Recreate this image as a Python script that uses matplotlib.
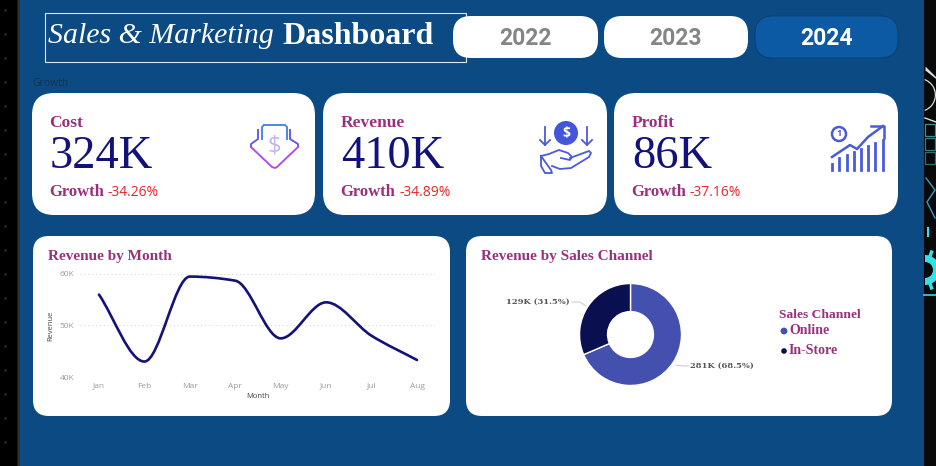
#!/usr/bin/env python3
"""Sales & Marketing dashboard, 2024 view."""
import numpy as np
import matplotlib
matplotlib.use("Agg")
import matplotlib.pyplot as plt
from matplotlib.patches import FancyBboxPatch, Rectangle, Circle, Wedge, PathPatch
from matplotlib.path import Path

W, H = 936, 466
BLUE = "#0B4A82"
NAVY = "#12127A"
PURPLE = "#9C2F7C"
RED = "#E8262A"
ICON = "#4A5BD8"
SERIF = "Liberation Serif"
SANS = "Open Sans"

years = ["2022", "2023", "2024"]
kpi_names = ["Cost", "Revenue", "Profit"]
kpi_values = ["324K", "410K", "86K"]
kpi_growth = ["-34.26%", "-34.89%", "-37.16%"]

months = ["Jan", "Feb", "Mar", "Apr", "May", "Jun", "Jul", "Aug"]
revenue = [56.0, 43.0, 59.5, 58.7, 47.5, 54.5, 48.0, 43.3]

channels = ["Online", "In-Store"]
channel_rev = [281, 129]
channel_labels = ["281K (68.5%)", "129K (31.5%)"]
channel_colors = ["#4350AE", "#0A0F50"]


def card(ax, x0, y0, x1, y1, r=20, fc="white", ec="none", lw=0):
    ax.add_patch(FancyBboxPatch((x0 + r, y0 + r), x1 - x0 - 2 * r, y1 - y0 - 2 * r,
                                boxstyle=f"round,pad={r},rounding_size={r}",
                                fc=fc, ec=ec, lw=lw))


def px_axes(fig, x0, y0, x1, y1):
    return fig.add_axes([x0 / W, 1 - y1 / H, (x1 - x0) / W, (y1 - y0) / H])


def smooth_path(xs, ys):
    # bezier handles with monotone tangents, the curve goes through the values
    xs, ys = np.array(xs, float), np.array(ys, float)
    d = np.diff(ys)
    m = np.zeros(len(ys))
    m[0], m[-1] = d[0], d[-1]
    for i in range(1, len(ys) - 1):
        if d[i - 1] * d[i] > 0:
            m[i] = 2 * d[i - 1] * d[i] / (d[i - 1] + d[i])
    verts = [(xs[0], ys[0])]
    codes = [Path.MOVETO]
    for i in range(len(ys) - 1):
        verts += [(xs[i] + 1 / 3, ys[i] + m[i] / 3),
                  (xs[i + 1] - 1 / 3, ys[i + 1] - m[i + 1] / 3),
                  (xs[i + 1], ys[i + 1])]
        codes += [Path.CURVE4] * 3
    return Path(verts, codes)


def cost_icon(ax):
    top, mid, low = "#4A86F0", "#6A5AE8", "#B24FE0"
    ax.plot([262, 262, 264], [139, 127, 125], color=top, lw=1.4)
    ax.plot([264, 285, 287, 287], [125, 125, 127, 139], color=top, lw=1.4)
    ax.plot([258, 258, 251, 251], [130, 139, 144, 147], color=mid, lw=1.4)
    ax.plot([290, 290, 298, 298], [130, 139, 144, 147], color=mid, lw=1.4)
    ax.plot([251, 272, 275, 277, 298], [147, 167, 168, 167, 147], color=low, lw=1.4)
    ax.text(274.5, 146, "$", color="#C6B2F2", fontsize=17, family=SANS,
            ha="center", va="center")


def revenue_icon(ax):
    ax.add_patch(Circle((566, 133), 12, fc="#4355D8", ec="none"))
    ax.text(566, 133, "$", color="white", fontsize=10, weight="bold", family=SANS,
            ha="center", va="center")
    for x in (545, 587):
        ax.plot([x, x], [127, 145], color=ICON, lw=1.3)
        ax.plot([x - 5, x, x + 5], [140, 145, 140], color=ICON, lw=1.3)
    ax.plot([541, 549, 559, 568, 572, 570, 561], [156, 154, 150, 153, 157, 160, 158], color=ICON, lw=1.3)
    ax.plot([570, 589, 591, 589, 571, 560, 552], [158, 151, 153, 157, 168, 169, 166], color=ICON, lw=1.3)
    ax.plot([541, 551, 552, 545, 541, 541], [156, 170, 173, 173, 166, 156], color=ICON, lw=1.3)


def profit_icon(ax):
    bar_x = [832, 839, 847, 854, 861, 868, 875, 883]
    bar_top = [164, 158, 155, 152, 149, 146, 143, 140]
    for x, t in zip(bar_x, bar_top):
        ax.plot([x, x], [170, t], color=ICON, lw=2)
    ax.plot([832, 850, 857, 868, 883], [157, 145, 149, 137, 126], color=ICON, lw=1.8)
    ax.plot([871, 884, 884], [126, 126, 138], color=ICON, lw=1.8)
    ax.add_patch(Circle((839, 134), 7, fc="white", ec=ICON, lw=1.8))
    ax.text(839, 134, "1", color=ICON, fontsize=6.5, weight="bold", family=SANS,
            ha="center", va="center")


def edges(ax):
    # dark wallpaper that shows at both sides of the dashboard
    ax.add_patch(Rectangle((0, 0), 17, H, fc="black", ec="none"))
    for i, g in enumerate(["#1A1A1A", "#303030", "#2B3340"]):
        ax.add_patch(Rectangle((17 + i, 0), 1, H, fc=g, ec="none"))
    for y in np.arange(10, H, 24):
        ax.plot([5], [y], ".", ms=0.8, color="#555555")
    ax.add_patch(Rectangle((924, 0), 12, H, fc="#0A0A0A", ec="none"))
    ax.add_patch(Wedge((919, 95), 17, -70, 70, width=1.2, fc="#D8E0E0", ec="none"))
    ax.plot([926, 936, 926], [68, 78, 70], color="#D8E0E0", lw=1)
    ax.plot([925, 936], [118, 122], color="#D8E0E0", lw=1)
    for y0, c in zip((124, 138, 152), ("#3E8F88", "#2E7F80", "#2A7078")):
        ax.add_patch(Rectangle((925, y0), 10, 12, fc="none", ec=c, lw=0.9))
    ax.plot([926, 935, 927, 935], [178, 190, 202, 218], color="#3A9AC0", lw=1)
    ax.plot([928, 928], [228, 236], color="#35E0E8", lw=1.5)
    ax.add_patch(Wedge((925, 270), 15, -90, 90, width=7, fc="#35E0E8", ec="none"))
    for a in np.radians([-70, -35, 0, 35, 70]):
        ax.plot([925 + 15 * np.cos(a), 925 + 19 * np.cos(a)],
                [270 + 15 * np.sin(a), 270 + 19 * np.sin(a)], color="#35E0E8", lw=2.5)
    ax.plot([924, 936], [295, 295], color="#35C8D8", lw=1.3)


fig = plt.figure(figsize=(W / 100, H / 100), dpi=100, facecolor=BLUE)
bg = fig.add_axes([0, 0, 1, 1])
bg.set_xlim(0, W)
bg.set_ylim(H, 0)
bg.axis("off")
edges(bg)

# header
bg.add_patch(Rectangle((44.5, 12.5), 421, 49, fc="none", ec="#DDE8F2", lw=0.8))
bg.text(48, 36, "Sales & Marketing", color="white", fontsize=21.5, style="italic",
        family=SERIF, va="center")
bg.text(282, 36, "Dashboard", color="white", fontsize=23, weight="bold",
        family=SERIF, va="center")

btn_x = [(453, 598), (604, 748), (755, 898)]
for (x0, x1), year in zip(btn_x, years):
    active = year == years[-1]
    card(bg, x0, 16, x1, 58, r=18, fc="#0B5AA3" if active else "white",
         ec="#0A3F70" if active else "none", lw=0.6)
    bg.text((x0 + x1) / 2, 38.5, year, color="white" if active else "#858585",
            fontsize=16.5, weight="bold", family="Roboto", ha="center", va="center")

bg.text(32, 83, "Growth", color="#1A3050", fontsize=7.5, family=SANS, va="center")

# kpi cards
card_x = [(32, 315), (323, 607), (614, 898)]
for (x0, x1), name, val, gr in zip(card_x, kpi_names, kpi_values, kpi_growth):
    card(bg, x0, 93, x1, 215, r=22)
    tx = x0 + 17
    bg.text(tx + 0.5, 123, name, color=PURPLE, fontsize=12.5, weight="bold", family=SERIF, va="center")
    bg.text(tx + 1, 157, val, color=NAVY, fontsize=33.5, family=SERIF, va="center")
    bg.text(tx + 0.5, 192, "Growth", color=PURPLE, fontsize=12, weight="bold", family=SERIF, va="center")
    bg.text(tx + 59, 192, gr, color=RED, fontsize=10, family=SANS, va="center")
cost_icon(bg)
revenue_icon(bg)
profit_icon(bg)

# chart cards
card(bg, 33, 236, 450, 416, r=16)
card(bg, 466, 236, 892, 416, r=16)
bg.text(48, 256.5, "Revenue by Month", color=PURPLE, fontsize=11, weight="bold", family=SERIF, va="center")
bg.text(481, 256.5, "Revenue by Sales Channel", color=PURPLE, fontsize=11, weight="bold", family=SERIF, va="center")

# line chart
ax = px_axes(fig, 80, 274, 435, 377)
ax.patch.set_alpha(0)
ax.set_xlim(-0.418, 7.396)
ax.set_ylim(40, 60)
ax.add_patch(PathPatch(smooth_path(range(len(months)), revenue), fc="none", ec=NAVY, lw=1.9,
                       capstyle="round", zorder=3))
ax.set_xticks(range(len(months)), months)
ax.set_yticks([40, 50, 60], ["40K", "50K", "60K"])
ax.tick_params(length=0, labelsize=6, labelcolor="#9A9A9A", pad=4)
for lab in ax.get_xticklabels() + ax.get_yticklabels():
    lab.set_family(SANS)
ax.grid(axis="y", ls=(0, (1, 3)), color="#CFCFCF", lw=0.7)
ax.set_axisbelow(True)
for s in ax.spines.values():
    s.set_visible(False)
bg.text(258, 396.5, "Month", color="#444444", fontsize=5.5, family=SANS, ha="center", va="center")
bg.text(51, 326, "Revenue", color="#444444", fontsize=5.5, family=SANS, rotation=90, ha="center", va="center")

# donut
dn = px_axes(fig, 579, 283, 682, 386)
dn.pie(channel_rev, colors=channel_colors, startangle=90, counterclock=False, radius=1,
       wedgeprops=dict(width=0.55, edgecolor="white", linewidth=1))
dn.set_xlim(-1.01, 1.01)
dn.set_ylim(-1.01, 1.01)

bg.plot([676, 683, 689], [365, 366, 366], color="#C8C8C8", lw=0.7)
bg.plot([572, 580, 586], [302, 302, 306], color="#C8C8C8", lw=0.7)
bg.text(690, 366, channel_labels[0], color="#555555", fontsize=6, weight="bold", family="DejaVu Serif", va="center")
bg.text(570, 302, channel_labels[1], color="#555555", fontsize=6, weight="bold", family="DejaVu Serif", va="center", ha="right")

# legend
bg.text(779, 315, "Sales Channel", color=PURPLE, fontsize=9.7, weight="bold", family=SERIF, va="center")
for y, name, c, r in zip((331, 351), channels, channel_colors, (3.4, 2.8)):
    bg.add_patch(Circle((784, y), r, fc=c, ec="none"))
    bg.text(789, y, name, color=PURPLE, fontsize=10, weight="bold", family=SERIF, va="center")

fig.savefig("out.png", dpi=100, facecolor=BLUE)
